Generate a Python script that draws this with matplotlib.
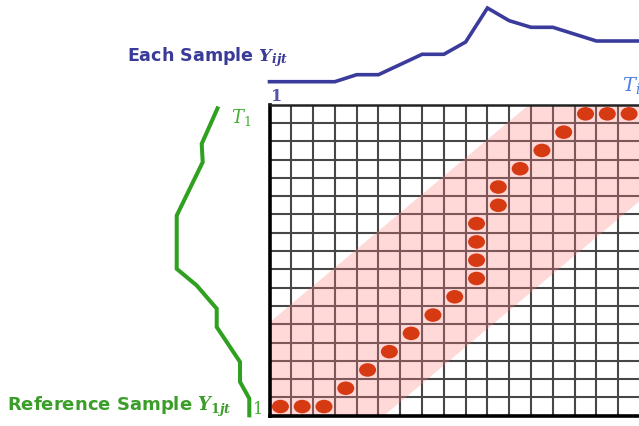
import numpy as np
import matplotlib
matplotlib.use("Agg")
import matplotlib.pyplot as plt
from matplotlib.patches import Ellipse

plt.rcParams["mathtext.fontset"] = "dejavuserif"

# ---- data -------------------------------------------------------------
n_cols = 17          # time steps of the sample series (visible part)
n_rows = 17          # time steps of the reference series

# warping path: (column, row) cell indices
path_cols = [0, 1, 2, 3, 4, 5, 6, 7, 8, 9, 9, 9, 9, 10, 10, 11, 12, 13, 14, 15, 16]
path_rows = [0, 0, 0, 1, 2, 3, 4, 5, 6, 7, 8, 9, 10, 11, 12, 13, 14, 15, 16, 16, 16]

# Sakoe-Chiba style window around the diagonal
band_above = 5.1
band_below = 5.25

# sample series drawn above the grid (time in column units)
sample_t = [0, 3, 4, 5, 7, 8, 9, 10, 11, 12, 13, 15, 17]
sample_v = [0.0, 0.0, 0.7, 0.7, 2.74, 2.74, 3.97, 7.37, 6.1, 5.44, 5.44, 4.07, 4.07]

# reference series drawn left of the grid (time in row units)
ref_t = [16.9, 14.86, 13.86, 10.94, 8.03, 7.12, 5.85, 4.85, 2.94, 1.85, 0.94, -0.09]
ref_v = [4.83, 3.17, 3.27, 0.67, 0.67, 2.67, 4.67, 4.67, 7.0, 7.0, 7.93, 7.93]

# ---- figure -----------------------------------------------------------
W, H = 639, 427
fig = plt.figure(figsize=(W / 100, H / 100), dpi=100)


def frac_box(x0, y0, x1, y1):
    """pixel box (top-left origin) -> figure fraction rect"""
    return [x0 / W, 1 - y1 / H, (x1 - x0) / W, (y1 - y0) / H]


def fpos(x, y):
    return x / W, 1 - y / H


grid_left, grid_top, grid_right, grid_bottom = 269.5, 105.7, 640.0, 416.7

# cost-matrix grid
ax = fig.add_axes(frac_box(grid_left, grid_top, grid_right, grid_bottom))
ax.set_xlim(0, n_cols)
ax.set_ylim(0, n_rows)
ax.set_axis_off()

for c in range(1, n_cols):
    ax.plot([c, c], [0, n_rows], color="#474747", lw=1.5, zorder=1,
            solid_capstyle="butt")
for r in range(1, n_rows):
    ax.plot([0, n_cols], [r, r], color="#474747", lw=1.5, zorder=1,
            solid_capstyle="butt")
ax.plot([0, 0], [0, n_rows], color="black", lw=2.6, zorder=4, clip_on=False)
ax.plot([0, n_cols], [0, 0], color="black", lw=2.6, zorder=4, clip_on=False)
ax.plot([0, n_cols], [n_rows, n_rows], color="#222222", lw=1.8, zorder=4,
        clip_on=False)

bx = np.linspace(-1, n_cols + 1, 200)
ax.fill_between(bx, bx - band_below, bx + band_above, color="#ff8080",
                alpha=0.3, lw=0, zorder=2)

for c, r in zip(path_cols, path_rows):
    ax.add_patch(Ellipse((c + 0.5, r + 0.5), 0.78, 0.74, color="#d63a12",
                         lw=0, zorder=5))

# sample series above
ax_top = fig.add_axes(frac_box(grid_left, 0, grid_right, 100))
ax_top.set_xlim(0, n_cols)
ax_top.set_ylim(-1.73, 8.27)
ax_top.set_axis_off()
ax_top.plot(sample_t, sample_v, color="#3b3b9b", lw=2.6,
            solid_joinstyle="miter", solid_capstyle="projecting", clip_on=False)

# reference series on the left
ax_left = fig.add_axes(frac_box(150, grid_top, 265, grid_bottom))
ax_left.set_ylim(0, n_rows)
ax_left.set_xlim(-2, 9.5)
ax_left.set_axis_off()
ax_left.plot(ref_v, ref_t, color="#30a020", lw=2.9, solid_joinstyle="miter",
             solid_capstyle="butt", clip_on=False)

# ---- labels -----------------------------------------------------------
fig.text(*fpos(127.3, 61.7), r"Each Sample $\mathbfit{Y}_{\mathbfit{ijt}}$",
         color="#3a3a98", fontsize=12.6, fontweight="bold", family="DejaVu Sans",
         ha="left", va="baseline")
fig.text(*fpos(7.3, 411.0), r"Reference Sample $\mathbfit{Y}_{\mathbf{1}\mathbfit{jt}}$",
         color="#3c9e2a", fontsize=13.0, fontweight="bold", family="DejaVu Sans",
         ha="left", va="baseline")

fig.text(*fpos(277, 96.5), "1", color="#5252aa", fontsize=11.5, family="DejaVu Serif",
         fontweight="bold", ha="center", va="center")
fig.text(*fpos(621.5, 91.5), r"$T_i$", color="#4a7fe0", fontsize=14,
         ha="left", va="baseline")
fig.text(*fpos(231.0, 122.5), r"$T_1$", color="#44ae36", fontsize=13,
         ha="left", va="baseline")
fig.text(*fpos(258.5, 409.5), "1", color="#44ae36", fontsize=11.5,
         family="DejaVu Serif", ha="center", va="center")

fig.savefig("out.png", dpi=100)
